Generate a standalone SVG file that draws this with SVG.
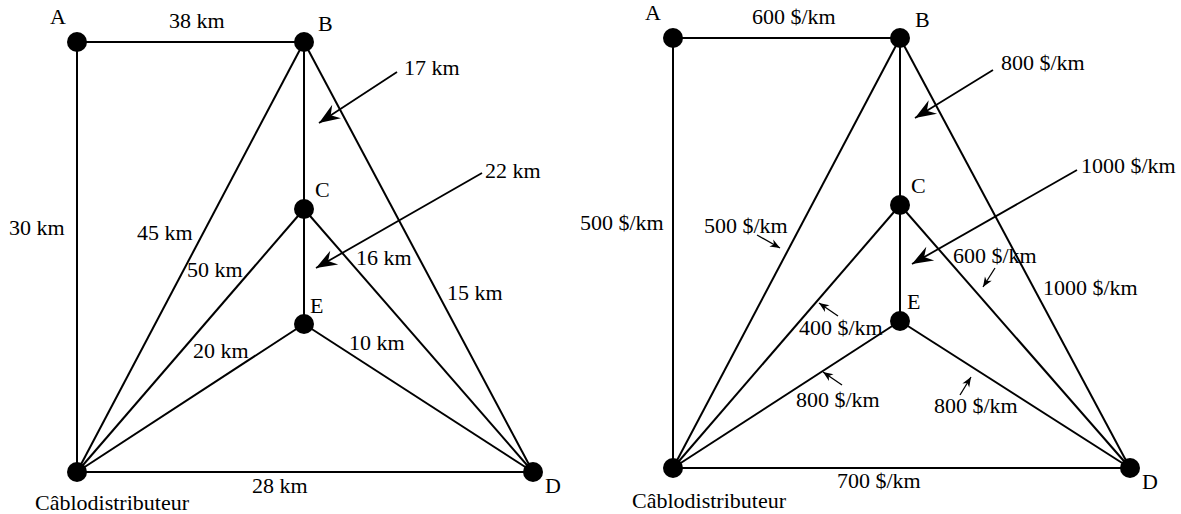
<svg xmlns="http://www.w3.org/2000/svg" width="1181" height="514" viewBox="0 0 1181 514" font-family="'Liberation Serif', 'DejaVu Serif', serif" font-size="22">
<style>
.e{stroke:#000;stroke-width:2;fill:none}
.a{stroke:#000;stroke-width:1.8;fill:none}
.s{stroke:#000;stroke-width:1.3;fill:none}
.n{fill:#000}
text{font-family:'Liberation Serif','DejaVu Serif',serif;font-size:22px;fill:#000}
</style>
<defs>
<marker id="big" markerUnits="userSpaceOnUse" markerWidth="30" markerHeight="20" viewBox="-22 -10 24 20" refX="0" refY="0" orient="auto">
<path d="M0,0 L-21,-8 L-14,0 L-21,8 z" fill="#000"/>
</marker>
<marker id="sm" markerUnits="userSpaceOnUse" markerWidth="14" markerHeight="10" viewBox="-11 -5 12 10" refX="0" refY="0" orient="auto">
<path d="M0,0 L-10,-4 L-7,0 L-10,4 z" fill="#000"/>
</marker>
</defs>
<rect width="1181" height="514" fill="#fff"/>
<g id="connectors">
<line class="e" x1="77" y1="42" x2="304" y2="42"/>
<line class="e" x1="77" y1="42" x2="77" y2="472"/>
<line class="e" x1="304" y1="42" x2="304" y2="324"/>
<line class="e" x1="304" y1="42" x2="77" y2="472"/>
<line class="e" x1="304" y1="42" x2="533" y2="472"/>
<line class="e" x1="304" y1="209" x2="77" y2="472"/>
<line class="e" x1="304" y1="209" x2="533" y2="472"/>
<line class="e" x1="304" y1="324" x2="77" y2="472"/>
<line class="e" x1="304" y1="324" x2="533" y2="472"/>
<line class="e" x1="77" y1="472" x2="533" y2="472"/>
<line class="a" x1="397" y1="72" x2="319" y2="123" marker-end="url(#big)"/>
<line class="a" x1="482" y1="173" x2="316" y2="268" marker-end="url(#big)"/>

<line class="e" x1="673" y1="38" x2="900" y2="38"/>
<line class="e" x1="673" y1="38" x2="673" y2="468"/>
<line class="e" x1="900" y1="38" x2="900" y2="321"/>
<line class="e" x1="900" y1="38" x2="673" y2="468"/>
<line class="e" x1="900" y1="38" x2="1130" y2="468"/>
<line class="e" x1="900" y1="205" x2="673" y2="468"/>
<line class="e" x1="900" y1="205" x2="1130" y2="468"/>
<line class="e" x1="900" y1="321" x2="673" y2="468"/>
<line class="e" x1="900" y1="321" x2="1130" y2="468"/>
<line class="e" x1="673" y1="468" x2="1130" y2="468"/>
<line class="a" x1="993" y1="70" x2="915" y2="118" marker-end="url(#big)"/>
<line class="a" x1="1077" y1="170" x2="912" y2="264" marker-end="url(#big)"/>
<line class="s" x1="757" y1="235" x2="780" y2="248" marker-end="url(#sm)"/>
<line class="s" x1="995" y1="268" x2="983" y2="287" marker-end="url(#sm)"/>
<line class="s" x1="838" y1="316" x2="819" y2="303" marker-end="url(#sm)"/>
<line class="s" x1="842" y1="385" x2="823" y2="372" marker-end="url(#sm)"/>
<line class="s" x1="960" y1="395" x2="971" y2="377" marker-end="url(#sm)"/>
</g>
<g id="L-A"><circle class="n" cx="77" cy="42" r="10"/><text x="50" y="24">A</text></g>
<g id="L-B"><circle class="n" cx="304" cy="42" r="10"/><text x="318" y="31">B</text></g>
<g id="L-C"><circle class="n" cx="304" cy="209" r="10"/><text x="315" y="197">C</text></g>
<g id="L-E"><circle class="n" cx="304" cy="324" r="10"/><text x="310" y="313">E</text></g>
<g id="L-K"><circle class="n" cx="77" cy="472" r="10"/><text x="35" y="510">Câblodistributeur</text></g>
<g id="L-D"><circle class="n" cx="533" cy="472" r="10"/><text x="545" y="493">D</text></g>
<g id="L-labels">
<text x="169" y="28">38 km</text>
<text x="404" y="75">17 km</text>
<text x="485" y="178">22 km</text>
<text x="9" y="235">30 km</text>
<text x="137" y="240">45 km</text>
<text x="356" y="265">16 km</text>
<text x="187" y="277">50 km</text>
<text x="447" y="300">15 km</text>
<text x="193" y="358">20 km</text>
<text x="349" y="350">10 km</text>
<text x="252" y="493">28 km</text>
</g>
<g id="R-A"><circle class="n" cx="673" cy="38" r="10"/><text x="645" y="20">A</text></g>
<g id="R-B"><circle class="n" cx="900" cy="38" r="10"/><text x="915" y="27">B</text></g>
<g id="R-C"><circle class="n" cx="900" cy="205" r="10"/><text x="911" y="193">C</text></g>
<g id="R-E"><circle class="n" cx="900" cy="321" r="10"/><text x="907" y="309">E</text></g>
<g id="R-K"><circle class="n" cx="673" cy="468" r="10"/><text x="632" y="508">Câblodistributeur</text></g>
<g id="R-D"><circle class="n" cx="1130" cy="468" r="10"/><text x="1142" y="489">D</text></g>
<g id="R-labels">
<text x="752" y="24">600 $/km</text>
<text x="1001" y="70">800 $/km</text>
<text x="1081" y="173">1000 $/km</text>
<text x="580" y="230">500 $/km</text>
<text x="704" y="233">500 $/km</text>
<text x="953" y="263">600 $/km</text>
<text x="1043" y="295">1000 $/km</text>
<text x="799" y="335">400 $/km</text>
<text x="796" y="407">800 $/km</text>
<text x="934" y="413">800 $/km</text>
<text x="837" y="488">700 $/km</text>
</g>
</svg>
